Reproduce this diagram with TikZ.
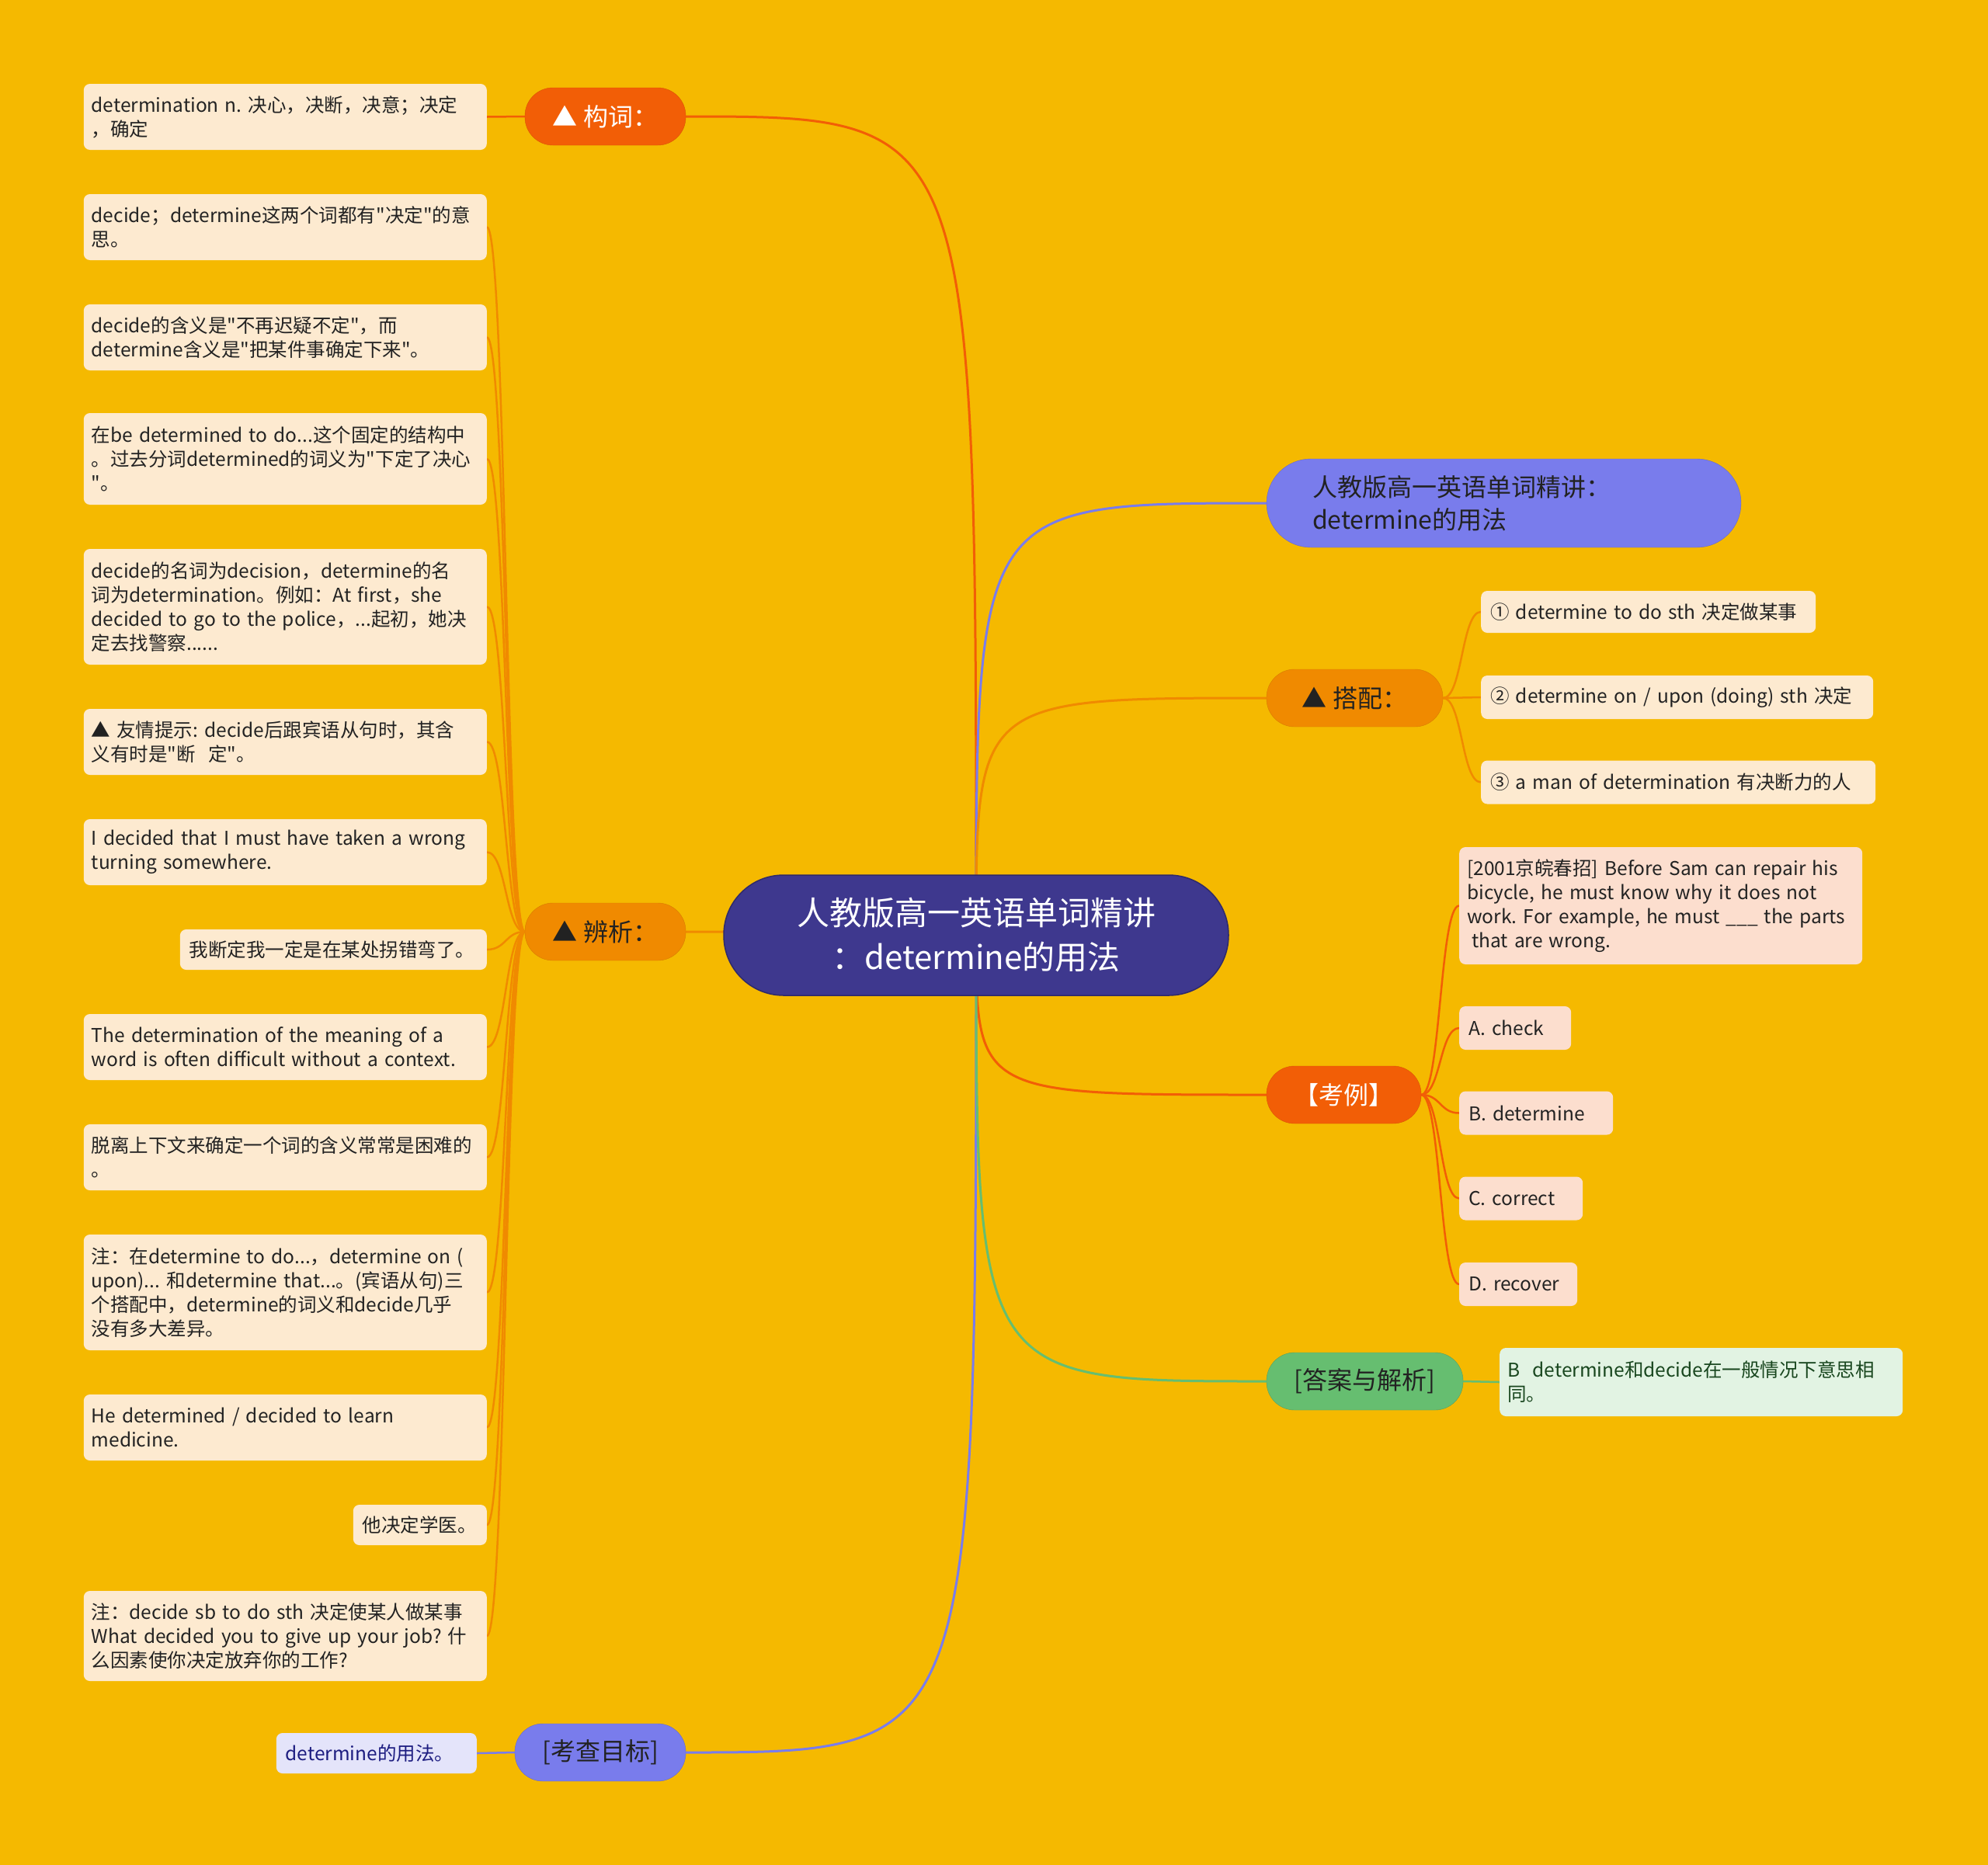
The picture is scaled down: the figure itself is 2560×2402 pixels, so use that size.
\documentclass[tikz,border=0pt]{standalone}
\usepackage{fontspec}
\setmainfont{Noto Sans CJK SC}
\newfontfamily\nf{Noto Sans CJK SC}
\frenchspacing
\pgfdeclarelayer{back}
\pgfdeclarelayer{bg}
\pgfsetlayers{back,bg,main}
\definecolor{bgc}{RGB}{245,185,0}
\definecolor{rootc}{RGB}{62,56,142}
\definecolor{redo}{RGB}{242,94,6}
\definecolor{orng}{RGB}{240,138,0}
\definecolor{purp}{RGB}{121,124,236}
\definecolor{grn}{RGB}{102,190,112}
\definecolor{cream}{RGB}{253,234,208}
\definecolor{pinkc}{RGB}{252,222,206}
\definecolor{lgrn}{RGB}{226,243,227}
\definecolor{lpur}{RGB}{228,228,250}
\definecolor{txt}{RGB}{34,34,34}
\definecolor{navy}{RGB}{28,28,128}
\definecolor{dgrn}{RGB}{24,70,30}
\begin{document}
\frenchspacing
\begin{tikzpicture}[x=1pt,y=-1pt,
  leaf/.style={rectangle, rounded corners=8pt, fill=cream, text=txt,
    font=\nf\frenchspacing\fontsize{24.5}{31}\selectfont, align=left, inner xsep=10pt, inner ysep=6pt},
  sleaf/.style={leaf, inner xsep=12pt},
  branch/.style={rectangle, rounded corners=36pt, minimum height=74pt,
    font=\nf\fontsize{32}{40}\selectfont, align=center, inner xsep=10pt, inner ysep=0pt},
  mainline/.style={line width=3pt},
  subline/.style={line width=2.5pt},
]
\begin{pgfonlayer}{back}
\fill[bgc] (0,0) rectangle (2560,2402);
\end{pgfonlayer}

% root
\node[rectangle, rounded corners=77pt, fill=rootc, draw=rootc!75!black, line width=1.5pt,
  minimum width=650pt, minimum height=155pt, text=white, inner sep=0pt,
  font=\nf\fontsize{42}{57}\selectfont, align=center] (root) at (1257,1204.5)
  {人教版高一英语单词精讲\\：determine的用法};

% left branches
\node[branch, fill=redo, draw=redo!90!black, text=white, minimum width=207pt] (gouci) at (779.5,150) {▲ 构词：};
\node[branch, fill=orng, draw=orng!90!black, text=txt, minimum width=207pt] (bianxi) at (779.5,1200) {▲ 辨析：};
\node[branch, fill=purp, draw=purp!85!black, text=txt, minimum width=220pt] (mubiao) at (773,2257) {[考查目标]};

% right branches
\node[branch, fill=purp, draw=purp!85!black, text=txt, rounded corners=57pt, minimum width=611pt, minimum height=114pt,
  align=left, text width=493pt, inner xsep=59pt, font=\nf\fontsize{32}{42}\selectfont] (title) at (1936.5,648)
  {人教版高一英语单词精讲：\\determine的用法};
\node[branch, fill=orng, draw=orng!90!black, text=txt, minimum width=227pt] (dapei) at (1744.5,899) {▲ 搭配：};
\node[branch, fill=redo, draw=redo!90!black, text=white, minimum width=199pt] (kaoli) at (1730.5,1410) {【考例】};
\node[branch, fill=grn, draw=grn!85!black, text=txt, minimum width=253pt] (daan) at (1757.5,1779) {[答案与解析]};

% left leaves
\node[leaf, text width=499pt, minimum height=85pt, anchor=east] (L1) at (627,150.5)
  {determination n. 决心，决断，决意；决定\\，确定};
\node[leaf, text width=499pt, minimum height=85pt, anchor=east] (L2) at (627,292.5)
  {decide；determine这两个词都有"决定"的意\\思。};
\node[leaf, text width=499pt, minimum height=85pt, anchor=east] (L3) at (627,434.5)
  {decide的含义是"不再迟疑不定"，而\\determine含义是"把某件事确定下来"。};
\node[leaf, text width=499pt, minimum height=118pt, anchor=east] (L4) at (627,591)
  {在be determined to do...这个固定的结构中\\。过去分词determined的词义为"下定了决心\\"。};
\node[leaf, text width=499pt, minimum height=149pt, anchor=east] (L5) at (627,781.5)
  {decide的名词为decision，determine的名\\词为determination。例如：At first，she\\decided to go to the police，...起初，她决\\定去找警察......};
\node[leaf, text width=499pt, minimum height=85pt, anchor=east] (L6) at (627,955.5)
  {▲ 友情提示: decide后跟宾语从句时，其含\\义有时是"断\ \ 定"。};
\node[leaf, text width=499pt, minimum height=85pt, anchor=east] (L7) at (627,1097.5)
  {I decided that I must have taken a wrong\\turning somewhere.};
\node[sleaf, text width=371pt, minimum height=52pt, anchor=east] (L8) at (627,1223)
  {我断定我一定是在某处拐错弯了。};
\node[leaf, text width=499pt, minimum height=85pt, anchor=east] (L9) at (627,1348.5)
  {The determination of the meaning of a\\word is often difficult without a context.};
\node[leaf, text width=499pt, minimum height=85pt, anchor=east] (L10) at (627,1490.5)
  {脱离上下文来确定一个词的含义常常是困难的\\。};
\node[leaf, text width=499pt, minimum height=149pt, anchor=east] (L11) at (627,1664.5)
  {注：在determine to do...，determine on (\\upon)... 和determine that...。(宾语从句)三\\个搭配中，determine的词义和decide几乎\\没有多大差异。};
\node[leaf, text width=499pt, minimum height=85pt, anchor=east] (L12) at (627,1838.5)
  {He determined / decided to learn\\medicine.};
\node[sleaf, text width=148pt, minimum height=52pt, anchor=east] (L13) at (627,1964)
  {他决定学医。};
\node[leaf, text width=499pt, minimum height=116pt, anchor=east] (L14) at (627,2107)
  {注：decide sb to do sth 决定使某人做某事\\What decided you to give up your job? 什\\么因素使你决定放弃你的工作?};
\node[sleaf, fill=lpur, text=navy, text width=234pt, minimum height=52pt, anchor=east] (L15) at (614,2258)
  {determine的用法。};

% right leaves
\node[sleaf, text width=407pt, minimum height=54pt, anchor=west] (R1) at (1907,788)
  {① determine to do sth 决定做某事};
\node[sleaf, text width=481pt, minimum height=56pt, anchor=west] (R2) at (1907,898)
  {② determine on / upon (doing) sth 决定};
\node[sleaf, text width=484pt, minimum height=56pt, anchor=west] (R3) at (1907,1007.5)
  {③ a man of determination 有决断力的人};
\node[leaf, fill=pinkc, text width=499pt, minimum height=151pt, anchor=west] (Q) at (1879,1166.5)
  {[2001京皖春招] Before Sam can repair his\\bicycle, he must know why it does not\\work. For example, he must \_\_\_ the parts\\\hspace*{6pt}that are wrong.};
\node[sleaf, fill=pinkc, text width=120pt, minimum height=56pt, anchor=west] (QA) at (1879,1324) {A. check};
\node[sleaf, fill=pinkc, text width=174pt, minimum height=56pt, anchor=west] (QB) at (1879,1433.5) {B. determine};
\node[sleaf, fill=pinkc, text width=135pt, minimum height=56pt, anchor=west] (QC) at (1879,1543.5) {C. correct};
\node[sleaf, fill=pinkc, text width=128pt, minimum height=56pt, anchor=west] (QD) at (1879,1654) {D. recover};
\node[leaf, fill=lgrn, text=dgrn, text width=499pt, minimum height=88pt, anchor=west] (ANS) at (1931,1780)
  {B\ \ determine和decide在一般情况下意思相\\同。};

\begin{pgfonlayer}{bg}
% main curves
\draw[mainline, redo] (root.center) .. controls (root.center |- gouci.east) .. (gouci.east);
\draw[mainline, orng] (root.center) .. controls (root.center |- bianxi.east) .. (bianxi.east);
\draw[mainline, purp] (root.center) .. controls (root.center |- mubiao.east) .. (mubiao.east);
\draw[mainline, purp] (root.center) .. controls (root.center |- title.west) .. (title.west);
\draw[mainline, orng] (root.center) .. controls (root.center |- dapei.west) .. (dapei.west);
\draw[mainline, redo] (root.center) .. controls (root.center |- kaoli.west) .. (kaoli.west);
\draw[mainline, grn] (root.center) .. controls (root.center |- daan.west) .. (daan.west);
% straight sub lines
\draw[subline, redo] (gouci.west) -- (L1.east);
\draw[subline, purp] (mubiao.west) -- (L15.east);
\draw[subline, grn] (daan.east) -- (ANS.west);
% bianxi children
\foreach \n in {L2,L3,L4,L5,L6,L7,L8,L9,L10,L11,L12,L13,L14}
  \draw[subline, orng] (bianxi.west) .. controls +(-25,0) and +(25,0) .. (\n.east);
% dapei children
\foreach \n in {R1,R2,R3}
  \draw[subline, orng] (dapei.east) .. controls +(25,0) and +(-25,0) .. (\n.west);
% kaoli children
\foreach \n in {Q,QA,QB,QC,QD}
  \draw[subline, redo] (kaoli.east) .. controls +(25,0) and +(-25,0) .. (\n.west);
\end{pgfonlayer}
\end{tikzpicture}
\end{document}
